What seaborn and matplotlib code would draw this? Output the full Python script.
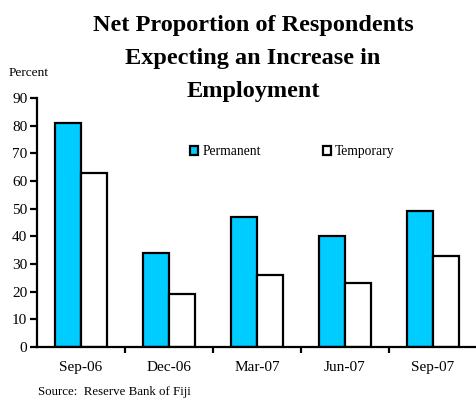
import matplotlib
matplotlib.use("Agg")
import matplotlib.pyplot as plt
import seaborn as sns
import pandas as pd
from matplotlib.patches import Patch

quarters = ["Sep-06", "Dec-06", "Mar-07", "Jun-07", "Sep-07"]
permanent = [81, 34, 47, 40, 49]
temporary = [63, 19, 26, 23, 33]
series = ["Permanent", "Temporary"]
yticks = [0, 10, 20, 30, 40, 50, 60, 70, 80, 90]

df = pd.DataFrame({
    "Quarter": quarters * 2,
    "Value": permanent + temporary,
    "Series": [series[0]] * len(quarters) + [series[1]] * len(quarters),
})

sns.set_theme(style="white")
plt.rcParams["font.family"] = ["Liberation Serif", "DejaVu Serif"]
plt.rcParams["text.color"] = "black"
plt.rcParams["xtick.color"] = "black"
plt.rcParams["ytick.color"] = "black"

fig = plt.figure(figsize=(4.77, 3.98), dpi=100)
ax = fig.add_axes([37 / 477, 1 - 347 / 398, 440 / 477, 249 / 398])

palette = {"Permanent": "#00CCFF", "Temporary": "#FFFFFF"}
sns.barplot(data=df, x="Quarter", y="Value", hue="Series", palette=palette,
            width=0.58, gap=0, edgecolor="black", linewidth=1.6,
            saturation=1, ax=ax, legend=False)

ax.set_ylim(0, 90)
ax.set_xlim(-0.5, 4.5)
ax.set_yticks(yticks)
ax.set_yticklabels([str(v) for v in yticks], fontsize=11)
ax.set_xticks(range(len(quarters)))
ax.set_xticklabels(quarters, fontsize=11)
ax.set_xlabel("")
ax.set_ylabel("")

for side in ["top", "right"]:
    ax.spines[side].set_visible(False)
for side in ["left", "bottom"]:
    ax.spines[side].set_color("black")
    ax.spines[side].set_linewidth(1.6)

ax.tick_params(axis="y", direction="out", length=5, width=1.6, color="black",
               left=True, pad=2, labelcolor="black")
ax.tick_params(axis="x", which="major", length=0, pad=10, labelcolor="black")
# small separator ticks between quarters
ax.set_xticks([0.5, 1.5, 2.5, 3.5], minor=True)
ax.tick_params(axis="x", which="minor", direction="out", length=4, width=1.6,
               color="black", bottom=True)

handles = [Patch(facecolor=palette[s], edgecolor="black", linewidth=1.6) for s in series]
ax.legend(handles, series, loc="upper left", bbox_to_anchor=(0.32, 0.86),
          ncol=2, frameon=False, handlelength=0.6, handleheight=0.6,
          handletextpad=0.3, columnspacing=4.55, prop={"size": 9.8},
          labelcolor="black")

fig.text(253 / 477, 1 - 15 / 398, "Net Proportion of Respondents\nExpecting an Increase in\nEmployment",
         ha="center", va="top", fontsize=17.5, fontweight="bold", linespacing=1.74,
         color="black")
fig.text(9 / 477, 1 - 73 / 398, "Percent", ha="left", va="center", fontsize=9.6,
         color="black")
fig.text(38 / 477, 1 - 392 / 398, "Source:  Reserve Bank of Fiji", ha="left",
         va="center", fontsize=9.3, color="black")

fig.savefig("out.png", dpi=100)
